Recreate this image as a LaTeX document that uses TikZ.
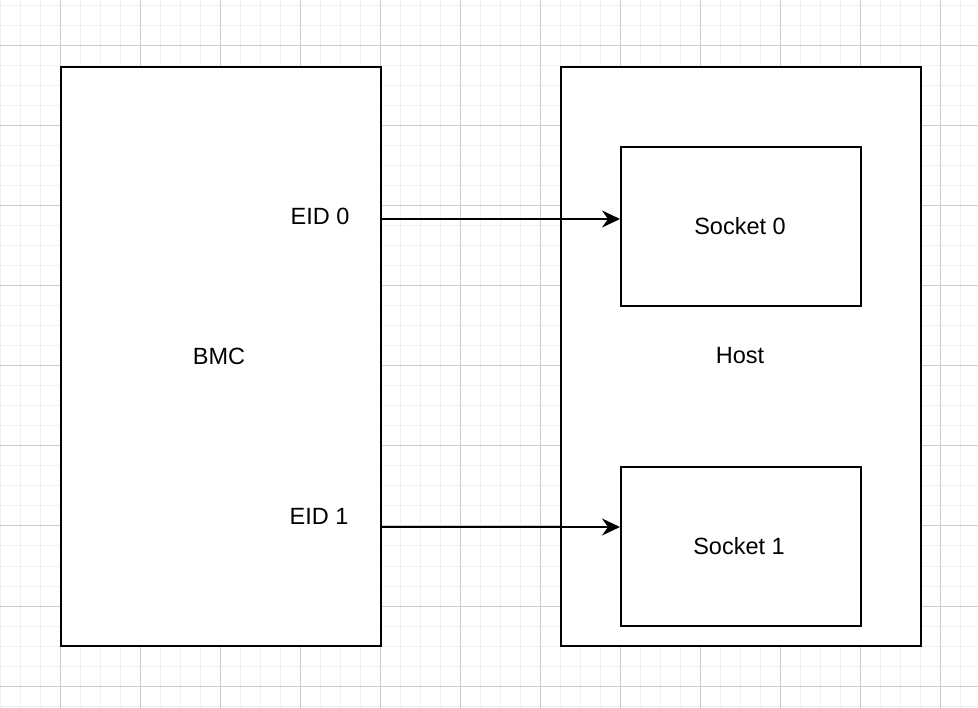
\documentclass[tikz,border=0pt]{standalone}
\usepackage{fontspec}
\setmainfont{Liberation Sans}
\usetikzlibrary{arrows.meta}
\begin{document}
\begin{tikzpicture}[x=1pt,y=-1pt,
  box/.style={draw=black,line width=2pt,fill=white,rectangle,inner sep=0pt,anchor=center},
  lbl/.style={font=\fontsize{23.5}{28}\selectfont,inner sep=0pt,anchor=center},
  link/.style={line width=2pt,-{Stealth[length=18pt,width=17pt,inset=6pt]}},
  minorgrid/.style={draw=black!6,line width=1pt},
  majorgrid/.style={draw=black!20,line width=1pt}]
\useasboundingbox (0,0) rectangle (978,708);
\fill[white] (0,0) rectangle (978,708);
% grid
\foreach \x in {0,20,...,960} {\draw[minorgrid] (\x,0) -- (\x,708);}
\foreach \y in {6,26,...,706} {\draw[minorgrid] (0,\y) -- (978,\y);}
\foreach \x in {60,140,...,940} {\draw[majorgrid] (\x,0) -- (\x,708);}
\foreach \y in {46,126,...,686} {\draw[majorgrid] (0,\y) -- (978,\y);}
% boxes
\node[box,minimum width=320pt,minimum height=579pt] (bmc) at (221,356.5) {};
\node[lbl] (bmclbl) at (219,356) {BMC};
\node[box,minimum width=360pt,minimum height=579pt] (host) at (741,356.5) {};
\node[lbl] (hostlbl) at (740,356) {Host};
\node[box,minimum width=240pt,minimum height=159pt] (s0) at (741,226.5) {};
\node[lbl] (s0lbl) at (740,226) {Socket 0};
\node[box,minimum width=240pt,minimum height=159pt] (s1) at (741,546.5) {};
\node[lbl] (s1lbl) at (739,546) {Socket 1};
% labels
\node[lbl] (eid0) at (320,216) {EID 0};
\node[lbl] (eid1) at (319,516) {EID 1};
% connectors
\coordinate (p0) at (381,219);
\coordinate (p1) at (381,527);
\draw[link] (p0) -- (s0.west |- p0);
\draw[link] (p1) -- (s1.west |- p1);
\end{tikzpicture}
\end{document}
